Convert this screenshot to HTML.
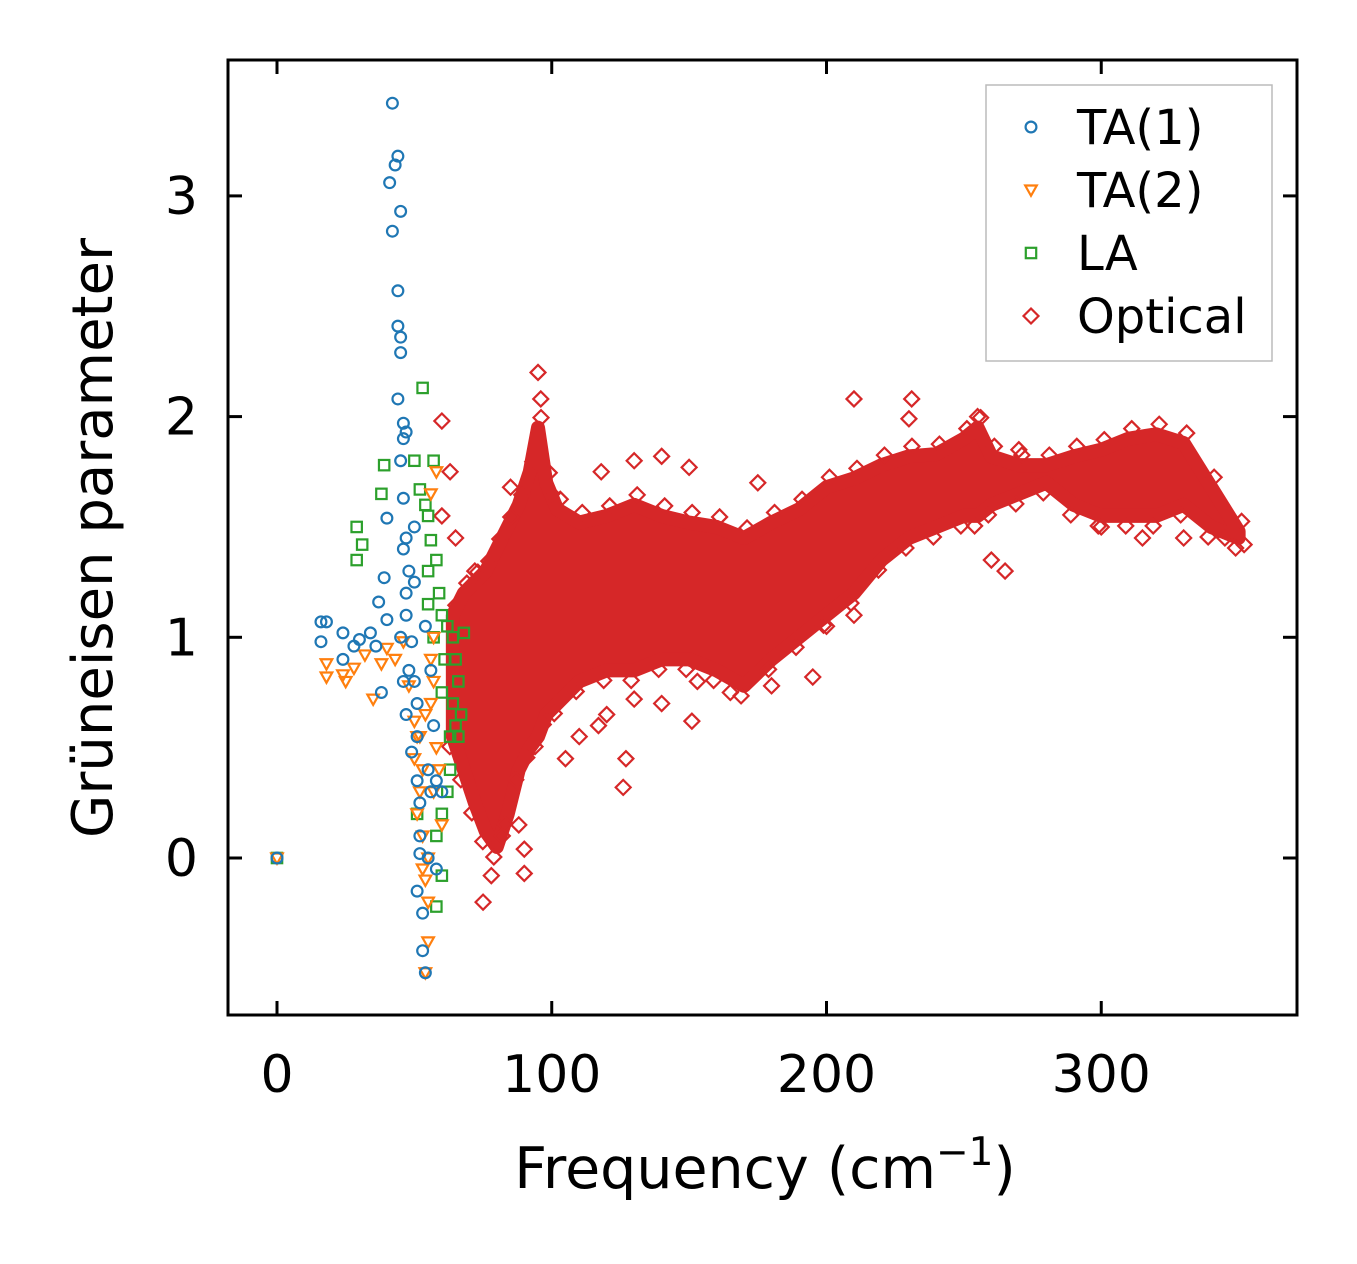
<!DOCTYPE html>
<html><head><meta charset="utf-8">
<style>
html,body{margin:0;padding:0;background:#fff;}
svg{display:block;font-family:"DejaVu Sans","Liberation Sans",sans-serif;}
</style></head>
<body>
<svg id="chart" width="1357" height="1264" viewBox="0 0 1357 1264" xmlns="http://www.w3.org/2000/svg">
<rect x="0" y="0" width="1357" height="1264" fill="#fff"/>
<g id="plot"></g>
<rect x="228" y="60" width="1069" height="955" fill="none" stroke="#000" stroke-width="3"/>
<g id="axes"></g>
<text x="765" y="1188" font-size="57" text-anchor="middle">Frequency (cm<tspan dy="-23" font-size="39">−1</tspan><tspan dy="23">)</tspan></text>
<text transform="translate(112,538) rotate(-90)" font-size="56" text-anchor="middle">Grüneisen parameter</text>
<g>
<rect x="986" y="85" width="286" height="276" fill="#fff" stroke="#bbb" stroke-width="1.5"/>
<g id="legend"></g>
</g>
</svg>
<script>
const xTicks=[0,100,200,300];
const yTicks=[0,1,2,3];
const ta1=[[0,0],[16,1.07],[18,1.07],[16,0.98],[24,1.02],[24,0.9],[28,0.96],[30,0.99],[34,1.02],[36,0.96],[37,1.16],[38,0.75],[39,1.27],[40,1.08],[40,1.54],[41,3.06],[42,3.42],[42,2.84],[43,3.14],[44,3.18],[45,2.93],[44,2.57],[44,2.41],[45,2.36],[45,2.29],[44,2.08],[46,1.97],[46,1.9],[47,1.93],[45,1.8],[46,1.63],[47,1.45],[46,1.4],[48,1.3],[47,1.2],[47,1.1],[49,0.98],[48,0.85],[47,0.65],[49,0.48],[50,0.8],[51,0.7],[51,0.55],[51,0.35],[52,0.25],[52,0.1],[52,0.02],[51,-0.15],[53,-0.25],[53,-0.42],[54,-0.52],[55,0.0],[56,0.3],[57,0.6],[58,-0.05],[56,0.85],[54,1.05],[50,1.5],[45,1.0],[46,0.8],[50,1.25],[55,0.4],[58,0.35],[60,0.3]];
const ta2=[[0,0],[18,0.88],[18,0.82],[24,0.83],[25,0.8],[28,0.86],[32,0.92],[35,0.72],[38,0.88],[40,0.95],[43,0.9],[46,0.98],[48,0.78],[50,0.62],[50,0.45],[51,0.55],[52,0.3],[51,0.2],[53,0.1],[53,-0.05],[54,-0.1],[55,-0.2],[55,-0.38],[54,-0.52],[56,0.7],[56,0.9],[57,1.0],[58,0.5],[59,0.4],[60,0.15],[55,0.0],[57,0.8],[54,0.65],[58,1.75],[56,1.65],[53,0.4],[52,0.55],[57,0.3]];
const la=[[0,0],[29,1.35],[29,1.5],[31,1.42],[38,1.65],[39,1.78],[50,1.8],[52,1.67],[53,2.13],[54,1.6],[55,1.55],[56,1.44],[57,1.8],[55,1.3],[55,1.15],[57,1.0],[58,1.35],[59,1.2],[60,1.1],[62,1.05],[64,1.0],[65,0.9],[66,0.8],[64,0.7],[65,0.6],[66,0.55],[67,0.65],[63,0.4],[62,0.3],[60,0.2],[58,0.1],[60,-0.08],[58,-0.22],[51,0.2],[61,0.9],[63,0.55],[68,1.02],[60,0.75]];
const bandFreq=[64,68,72,76,80,84,88,92,95,98,102,110,120,130,140,150,160,170,180,190,200,210,220,230,240,250,255,260,270,280,290,300,310,320,330,340,350];
const bandLow=[0.55,0.4,0.25,0.12,0.05,0.2,0.4,0.5,0.55,0.65,0.7,0.8,0.85,0.85,0.9,0.9,0.85,0.78,0.9,1.0,1.1,1.2,1.35,1.45,1.5,1.55,1.55,1.6,1.65,1.7,1.6,1.55,1.55,1.55,1.6,1.5,1.45];
const bandHigh=[1.1,1.2,1.25,1.3,1.4,1.5,1.6,1.75,1.95,1.7,1.58,1.52,1.55,1.6,1.55,1.52,1.5,1.45,1.52,1.58,1.68,1.72,1.78,1.82,1.83,1.9,1.95,1.82,1.78,1.78,1.82,1.85,1.9,1.92,1.88,1.68,1.48];
const optOut=[[60,1.98],[63,1.75],[60,1.55],[65,1.45],[72,1.3],[75,-0.2],[78,-0.08],[90,-0.07],[90,0.04],[95,2.2],[96,2.08],[105,0.45],[110,0.55],[117,0.6],[126,0.32],[127,0.45],[130,0.72],[150,1.77],[151,0.62],[153,0.8],[200,1.05],[210,2.08],[231,2.08],[230,1.99],[255,2.0],[260,1.35],[265,1.3],[270,1.85],[300,1.5],[315,1.45],[330,1.45],[352,1.42],[345,1.45],[165,0.75],[180,0.78],[195,0.82],[140,1.82],[118,1.75],[210,1.1],[85,1.68],[100,1.65],[130,1.8],[175,1.7],[120,0.65],[140,0.7],[88,0.15],[82,0.1]];

const X=v=>277+v*2.7475;
const Y=v=>858-v*220.7;
const NS="http://www.w3.org/2000/svg";
const plot=document.getElementById('plot');
const axes=document.getElementById('axes');
function mk(tag,attrs,parent){const e=document.createElementNS(NS,tag);for(const k in attrs)e.setAttribute(k,attrs[k]);parent.appendChild(e);return e;}
function marker(kind,cx,cy,color,parent){
  let e;
  if(kind==='circle'){e=mk('circle',{cx:cx,cy:cy,r:5.4,fill:'none',stroke:color,'stroke-width':2.2},parent);}
  else if(kind==='tri'){e=mk('polygon',{points:`${cx-5.8},${cy-4.5} ${cx+5.8},${cy-4.5} ${cx},${cy+5.8}`,fill:'none',stroke:color,'stroke-width':2.2},parent);}
  else if(kind==='square'){e=mk('rect',{x:cx-5.2,y:cy-5.2,width:10.4,height:10.4,fill:'none',stroke:color,'stroke-width':2.2},parent);}
  else {e=mk('polygon',{points:`${cx},${cy-7.5} ${cx+7.5},${cy} ${cx},${cy+7.5} ${cx-7.5},${cy}`,fill:'none',stroke:color,'stroke-width':2.2},parent);}
  return e;
}
let pts=bandFreq.map((f,i)=>`${X(f)},${Y(bandHigh[i])}`).concat(bandFreq.slice().reverse().map((f,i)=>`${X(f)},${Y(bandLow[bandFreq.length-1-i])}`));
const band=mk('polygon',{points:pts.join(' '),fill:'#d62728',stroke:'#d62728','stroke-width':14,'stroke-linejoin':'round'},plot);


bandFreq.forEach((f,i)=>{
  const a=marker('diamond',X(f)+3,Y(bandHigh[i])-10,'#d62728',plot);
  
  
  const b=marker('diamond',X(f)-3,Y(bandLow[i])+10,'#d62728',plot);
  
  
});
optOut.forEach(p=>{const m=marker('diamond',X(p[0]),Y(p[1]),'#d62728',plot);
  
  });
la.forEach(p=>{const m=marker('square',X(p[0]),Y(p[1]),'#2ca02c',plot);
  
  });
ta2.forEach(p=>{const m=marker('tri',X(p[0]),Y(p[1]),'#ff7f0e',plot);
  
  });
ta1.forEach(p=>{const m=marker('circle',X(p[0]),Y(p[1]),'#1f77b4',plot);
  
  });
xTicks.forEach(t=>{const x=X(t);
  mk('line',{x1:x,y1:1015,x2:x,y2:1001,stroke:'#000','stroke-width':3},axes);
  mk('line',{x1:x,y1:60,x2:x,y2:74,stroke:'#000','stroke-width':3},axes);
  const tx=mk('text',{x:x,y:1092,'font-size':52,'text-anchor':'middle'},axes);tx.textContent=t;
  
  });
yTicks.forEach(t=>{const y=Y(t);
  mk('line',{x1:228,y1:y,x2:242,y2:y,stroke:'#000','stroke-width':3},axes);
  mk('line',{x1:1297,y1:y,x2:1283,y2:y,stroke:'#000','stroke-width':3},axes);
  const tx=mk('text',{x:198,y:y+18,'font-size':52,'text-anchor':'end'},axes);tx.textContent=t;
  
  });
const lg=document.getElementById('legend');
const legLabels=['TA(1)','TA(2)','LA','Optical'];
const legKinds=['circle','tri','square','diamond'];
const legColors=['#1f77b4','#ff7f0e','#2ca02c','#d62728'];
legLabels.forEach((l,i)=>{const y=127+i*63;
  const g=mk('g',{},lg);
  
  
  marker(legKinds[i],1031,y,legColors[i],g);
  const t=mk('text',{x:1077,y:y+17,'font-size':48},g);t.textContent=l;});
</script>
</body></html>
